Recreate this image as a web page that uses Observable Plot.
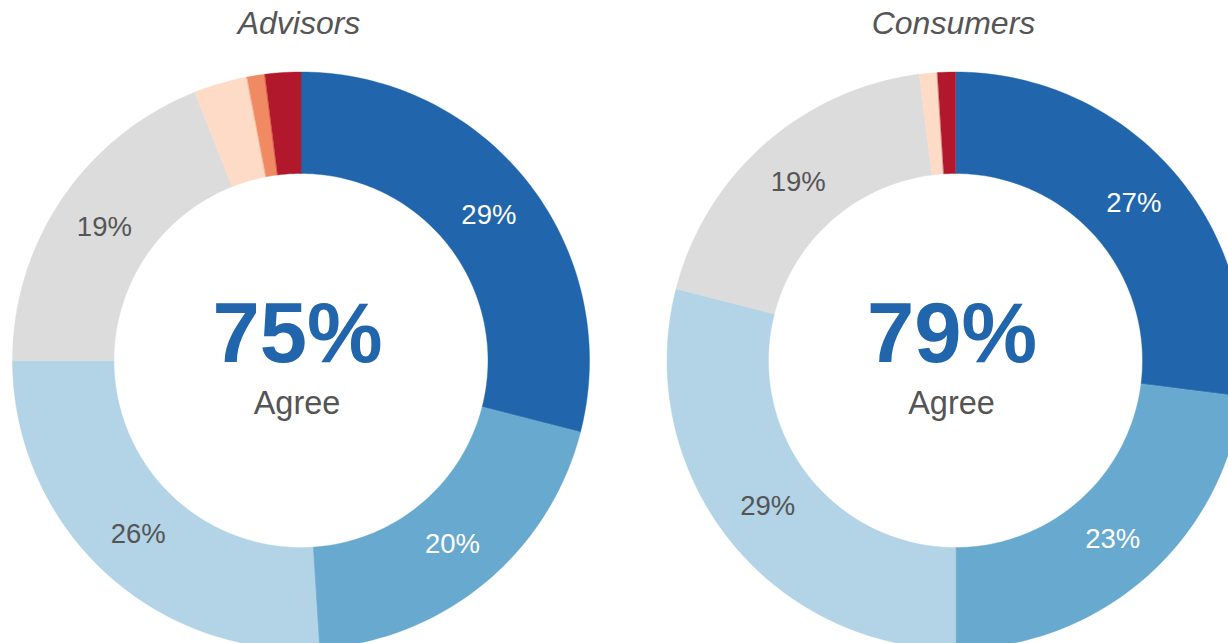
<!DOCTYPE html>
<html>
<head>
<meta charset="utf-8">
<script src="https://cdn.jsdelivr.net/npm/d3@7"></script>
<script src="https://cdn.jsdelivr.net/npm/@observablehq/plot@0.6"></script>
<style>
  html, body { margin: 0; padding: 0; background: #fff; overflow: hidden; }
  svg { display: block; }
</style>
</head>
<body>
<div id="chart"></div>
<script>
// ---- data ----
const groups = ["Advisors", "Consumers"];
const categories = ["Strongly agree", "Agree", "Somewhat agree", "Neutral", "Somewhat disagree", "Disagree", "Strongly disagree"];
const advisorsValues = [29, 20, 26, 19, 3, 1, 2];
const consumersValues = [27, 23, 29, 19, 1, 0, 1];
const agreeTotals = [75, 79];
const centerLabel = "Agree";
const palette = ["#2166ac", "#67a9cf", "#b3d3e6", "#dcdcdc", "#fddbc7", "#ef8a62", "#b2182b"];
const lightText = ["Strongly agree", "Agree"];

// ---- layout ----
const W = 1228, H = 643;
const px = 288.5;                       // pixels per unit (outer radius = 1)
const centersPx = [300.5, 955];          // donut centre x in pixels
const cyPx = 360;                        // donut centre y in pixels
const inner = 187 / px;
const labelR = (1 + inner) / 2;
const centers = centersPx.map(c => (c - centersPx[0]) / px);
const xDomain = [-centersPx[0] / px, (W - centersPx[0]) / px];
const yDomain = [-(H - cyPx) / px, cyPx / px];

const series = [advisorsValues, consumersValues];
const slicePts = [];
const labels = [];
groups.forEach((g, gi) => {
  let cum = 0;
  series[gi].forEach((v, i) => {
    const a0 = cum / 100 * 2 * Math.PI;
    const a1 = (cum + v) / 100 * 2 * Math.PI;
    cum += v;
    if (v <= 0) return;
    const key = g + "|" + categories[i];
    const n = Math.max(3, Math.ceil(v * 3));
    for (let k = 0; k <= n; k++) {
      const a = a0 + (a1 - a0) * k / n;
      slicePts.push({key, category: categories[i], x: centers[gi] + Math.sin(a), y: Math.cos(a)});
    }
    for (let k = n; k >= 0; k--) {
      const a = a0 + (a1 - a0) * k / n;
      slicePts.push({key, category: categories[i], x: centers[gi] + inner * Math.sin(a), y: inner * Math.cos(a)});
    }
    if (v >= 5) {
      const am = (a0 + a1) / 2;
      labels.push({
        text: v + "%",
        category: categories[i],
        x: centers[gi] + labelR * Math.sin(am),
        y: labelR * Math.cos(am)
      });
    }
  });
});

const centreData = groups.map((g, gi) => ({group: g, x: centers[gi], total: agreeTotals[gi] + "%"}));

const chart = Plot.plot({
  width: W,
  height: H,
  margin: 0,
  x: {domain: xDomain, axis: null},
  y: {domain: yDomain, axis: null},
  color: {domain: categories, range: palette},
  style: {fontFamily: "'Liberation Sans', Arial, sans-serif", background: "#fff"},
  marks: [
    Plot.line(slicePts, {x: "x", y: "y", z: "key", fill: "category", stroke: "category", strokeWidth: 0.4, curve: "linear-closed"}),
    Plot.text(labels.filter(d => lightText.includes(d.category)), {x: "x", y: "y", text: "text", fill: "#fff", fontSize: 27.5}),
    Plot.text(labels.filter(d => !lightText.includes(d.category)), {x: "x", y: "y", text: "text", fill: "#555", fontSize: 27.5}),
    Plot.text(centreData, {x: "x", y: () => 0, text: "total", fill: "#2166ac", fontSize: 85, fontWeight: "bold", dy: -26, dx: -3.5}),
    Plot.text(centreData, {x: "x", y: () => 0, text: () => centerLabel, fill: "#555", fontSize: 32.5, dy: 43, dx: -4}),
    Plot.text(centreData, {x: "x", text: "group", frameAnchor: "top", lineAnchor: "top", dy: 11, dx: -2, fill: "#555", fontSize: 32, fontStyle: "italic"})
  ]
});
document.getElementById("chart").appendChild(chart);
</script>
</body>
</html>
